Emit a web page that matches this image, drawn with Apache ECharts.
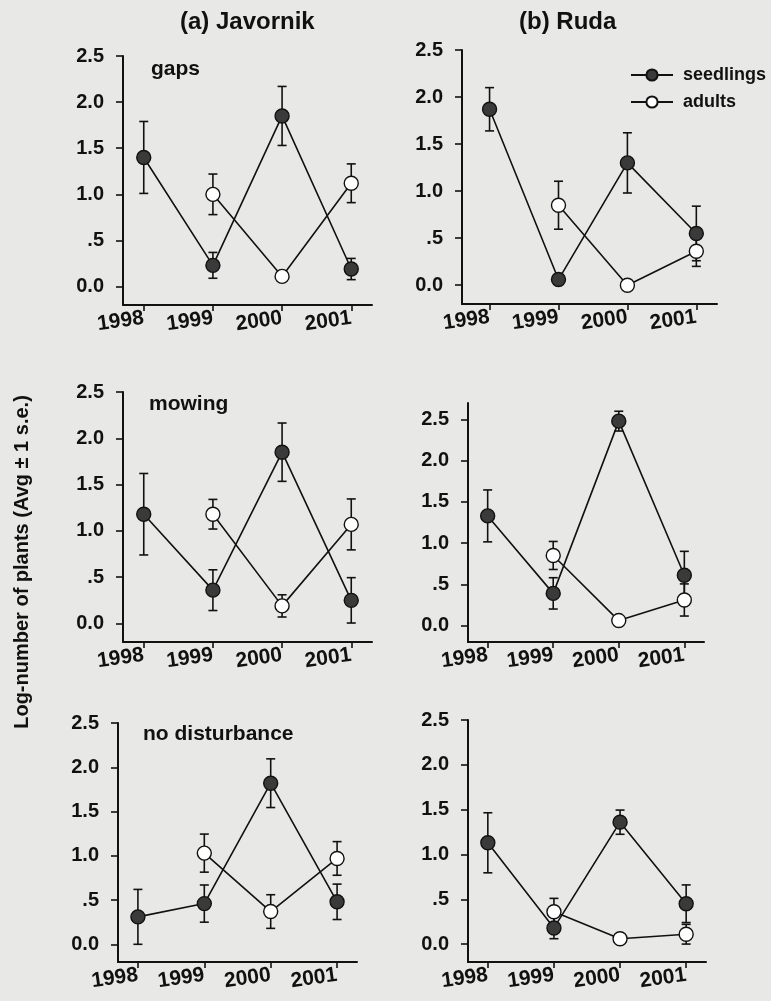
<!DOCTYPE html>
<html>
<head>
<meta charset="utf-8">
<script src="https://cdn.jsdelivr.net/npm/echarts@6/dist/echarts.min.js"></script>
<style>
html, body { margin: 0; padding: 0; background: #e8e8e6; }
#chart { width: 771px; height: 1001px; }
</style>
</head>
<body>
<div id="chart"></div>
<script>
// years on the x axis
const years = [1998, 1999, 2000, 2001];
const yTicks = [0, 0.5, 1, 1.5, 2, 2.5];

// panel means (null = not recorded) and standard errors
const javGapsSeed = [1.40, 0.23, 1.85, 0.19];
const javGapsSeedSe = [0.39, 0.14, 0.32, 0.115];
const javGapsAdult = [null, 1.00, 0.11, 1.12];
const javGapsAdultSe = [null, 0.22, 0.02, 0.21];

const rudaGapsSeed = [1.87, 0.06, 1.30, 0.55];
const rudaGapsSeedSe = [0.23, 0.02, 0.32, 0.29];
const rudaGapsAdult = [null, 0.85, 0.00, 0.36];
const rudaGapsAdultSe = [null, 0.255, 0.0, 0.16];

const javMowSeed = [1.18, 0.36, 1.85, 0.25];
const javMowSeedSe = [0.44, 0.22, 0.315, 0.245];
const javMowAdult = [null, 1.18, 0.19, 1.07];
const javMowAdultSe = [null, 0.16, 0.12, 0.275];

const rudaMowSeed = [1.33, 0.39, 2.48, 0.61];
const rudaMowSeedSe = [0.315, 0.19, 0.12, 0.29];
const rudaMowAdult = [null, 0.85, 0.06, 0.31];
const rudaMowAdultSe = [null, 0.17, 0.0, 0.195];

const javNoSeed = [0.31, 0.46, 1.82, 0.48];
const javNoSeedSe = [0.31, 0.21, 0.275, 0.20];
const javNoAdult = [null, 1.03, 0.37, 0.97];
const javNoAdultSe = [null, 0.215, 0.19, 0.19];

const rudaNoSeed = [1.13, 0.18, 1.36, 0.45];
const rudaNoSeedSe = [0.335, 0.12, 0.135, 0.21];
const rudaNoAdult = [null, 0.36, 0.06, 0.11];
const rudaNoAdultSe = [null, 0.15, 0.0, 0.11];

const panels = [
	{seed: javGapsSeed, seedSe: javGapsSeedSe, adult: javGapsAdult, adultSe: javGapsAdultSe,
		grid: {left: 123, top: 56, width: 249, height: 249}, xMin: 1997.7, yMax: 2.5},
	{seed: rudaGapsSeed, seedSe: rudaGapsSeedSe, adult: rudaGapsAdult, adultSe: rudaGapsAdultSe,
		grid: {left: 462, top: 50, width: 255, height: 254}, xMin: 1997.6, yMax: 2.5},
	{seed: javMowSeed, seedSe: javMowSeedSe, adult: javMowAdult, adultSe: javMowAdultSe,
		grid: {left: 123, top: 392, width: 249, height: 250}, xMin: 1997.7, yMax: 2.5},
	{seed: rudaMowSeed, seedSe: rudaMowSeedSe, adult: rudaMowAdult, adultSe: rudaMowAdultSe,
		grid: {left: 468, top: 403, width: 236, height: 239}, xMin: 1997.7, yMax: 2.7},
	{seed: javNoSeed, seedSe: javNoSeedSe, adult: javNoAdult, adultSe: javNoAdultSe,
		grid: {left: 118, top: 723, width: 239, height: 239}, xMin: 1997.7, yMax: 2.5},
	{seed: rudaNoSeed, seedSe: rudaNoSeedSe, adult: rudaNoAdult, adultSe: rudaNoAdultSe,
		grid: {left: 468, top: 720, width: 238, height: 242}, xMin: 1997.7, yMax: 2.5}
];

const font = "Liberation Sans";

function points(vals) {
	const out = [];
	vals.forEach((v, i) => { if (v !== null) out.push([years[i], v]); });
	return out;
}

function errBars(vals, se) {
	const out = [];
	vals.forEach((v, i) => {
		if (v !== null && se[i] > 0) out.push([years[i], v - se[i], v + se[i]]);
	});
	return out;
}

function renderErr(params, api) {
	const x = api.value(0);
	const top = api.coord([x, api.value(2)]);
	const bot = api.coord([x, api.value(1)]);
	const w = 4.5;
	const style = {stroke: "#111", lineWidth: 1.6};
	return {
		type: "group",
		children: [
			{type: "line", shape: {x1: top[0], y1: top[1], x2: bot[0], y2: bot[1]}, style: style},
			{type: "line", shape: {x1: top[0] - w, y1: top[1], x2: top[0] + w, y2: top[1]}, style: style},
			{type: "line", shape: {x1: bot[0] - w, y1: bot[1], x2: bot[0] + w, y2: bot[1]}, style: style}
		]
	};
}

const grids = [], xAxes = [], yAxes = [], series = [];

panels.forEach((p, i) => {
	grids.push(Object.assign({outerBoundsMode: "none"}, p.grid));
	xAxes.push({
		type: "value",
		gridIndex: i,
		min: p.xMin,
		max: 2001.3,
		splitLine: {show: false},
		axisLine: {onZero: false, lineStyle: {color: "#111", width: 2}},
		axisTick: {customValues: years, length: 6, lineStyle: {color: "#111", width: 1.6}},
		axisLabel: {
			customValues: years,
			rotate: 8,
			margin: 13,
			color: "#111",
			fontFamily: font,
			fontWeight: "bold",
			fontSize: 21,
			formatter: v => String(v)
		}
	});
	yAxes.push({
		type: "value",
		gridIndex: i,
		min: -0.2,
		max: p.yMax,
		splitLine: {show: false},
		axisLine: {show: true, onZero: false, lineStyle: {color: "#111", width: 2}},
		axisTick: {show: true, customValues: yTicks, length: 7, lineStyle: {color: "#111", width: 1.6}},
		axisLabel: {
			customValues: yTicks,
			margin: 19,
			color: "#111",
			fontFamily: font,
			fontWeight: "bold",
			fontSize: 20,
			formatter: v => v === 0.5 ? ".5" : v.toFixed(1)
		}
	});
	series.push({
		type: "custom",
		name: "err" + i,
		xAxisIndex: i,
		yAxisIndex: i,
		renderItem: renderErr,
		encode: {x: 0, y: [1, 2]},
		data: errBars(p.seed, p.seedSe).concat(errBars(p.adult, p.adultSe)),
		z: 1,
		silent: true
	});
	series.push({
		type: "line",
		name: "seedlings",
		xAxisIndex: i,
		yAxisIndex: i,
		data: points(p.seed),
		symbol: "circle",
		symbolSize: 14,
		lineStyle: {color: "#111", width: 1.6},
		itemStyle: {color: "#3a3a3a", borderColor: "#111", borderWidth: 1.4},
		z: 3
	});
	series.push({
		type: "line",
		name: "adults",
		xAxisIndex: i,
		yAxisIndex: i,
		data: points(p.adult),
		symbol: "circle",
		symbolSize: 14,
		lineStyle: {color: "#111", width: 1.6},
		itemStyle: {color: "#ffffff", borderColor: "#111", borderWidth: 1.4},
		z: 2
	});
});

const bold = {fontFamily: font, fontWeight: "bold", fill: "#111"};

const chart = echarts.init(document.getElementById("chart"));
chart.setOption({
	backgroundColor: "#e8e8e6",
	animation: false,
	grid: grids,
	xAxis: xAxes,
	yAxis: yAxes,
	series: series,
	legend: {
		data: ["seedlings", "adults"],
		orient: "vertical",
		left: 625,
		top: 61,
		itemWidth: 42,
		itemHeight: 14,
		itemGap: 9,
		textStyle: {fontFamily: font, fontWeight: "bold", fontSize: 18, color: "#111", padding: [0, 0, 0, 5]}
	},
	graphic: [
		{type: "text", left: 180, top: 10, style: Object.assign({text: "(a) Javornik", fontSize: 24}, bold)},
		{type: "text", left: 519, top: 10, style: Object.assign({text: "(b) Ruda", fontSize: 24}, bold)},
		{type: "text", left: 151, top: 59, style: Object.assign({text: "gaps", fontSize: 21}, bold)},
		{type: "text", left: 149, top: 394, style: Object.assign({text: "mowing", fontSize: 21}, bold)},
		{type: "text", left: 143, top: 724, style: Object.assign({text: "no disturbance", fontSize: 21}, bold)},
		{
			type: "text",
			x: 22,
			y: 562,
			rotation: Math.PI / 2,
			style: Object.assign({
				text: "Log-number of plants (Avg \u00b1 1 s.e.)",
				fontSize: 20,
				align: "center",
				verticalAlign: "middle"
			}, bold)
		}
	]
});
</script>
</body>
</html>
